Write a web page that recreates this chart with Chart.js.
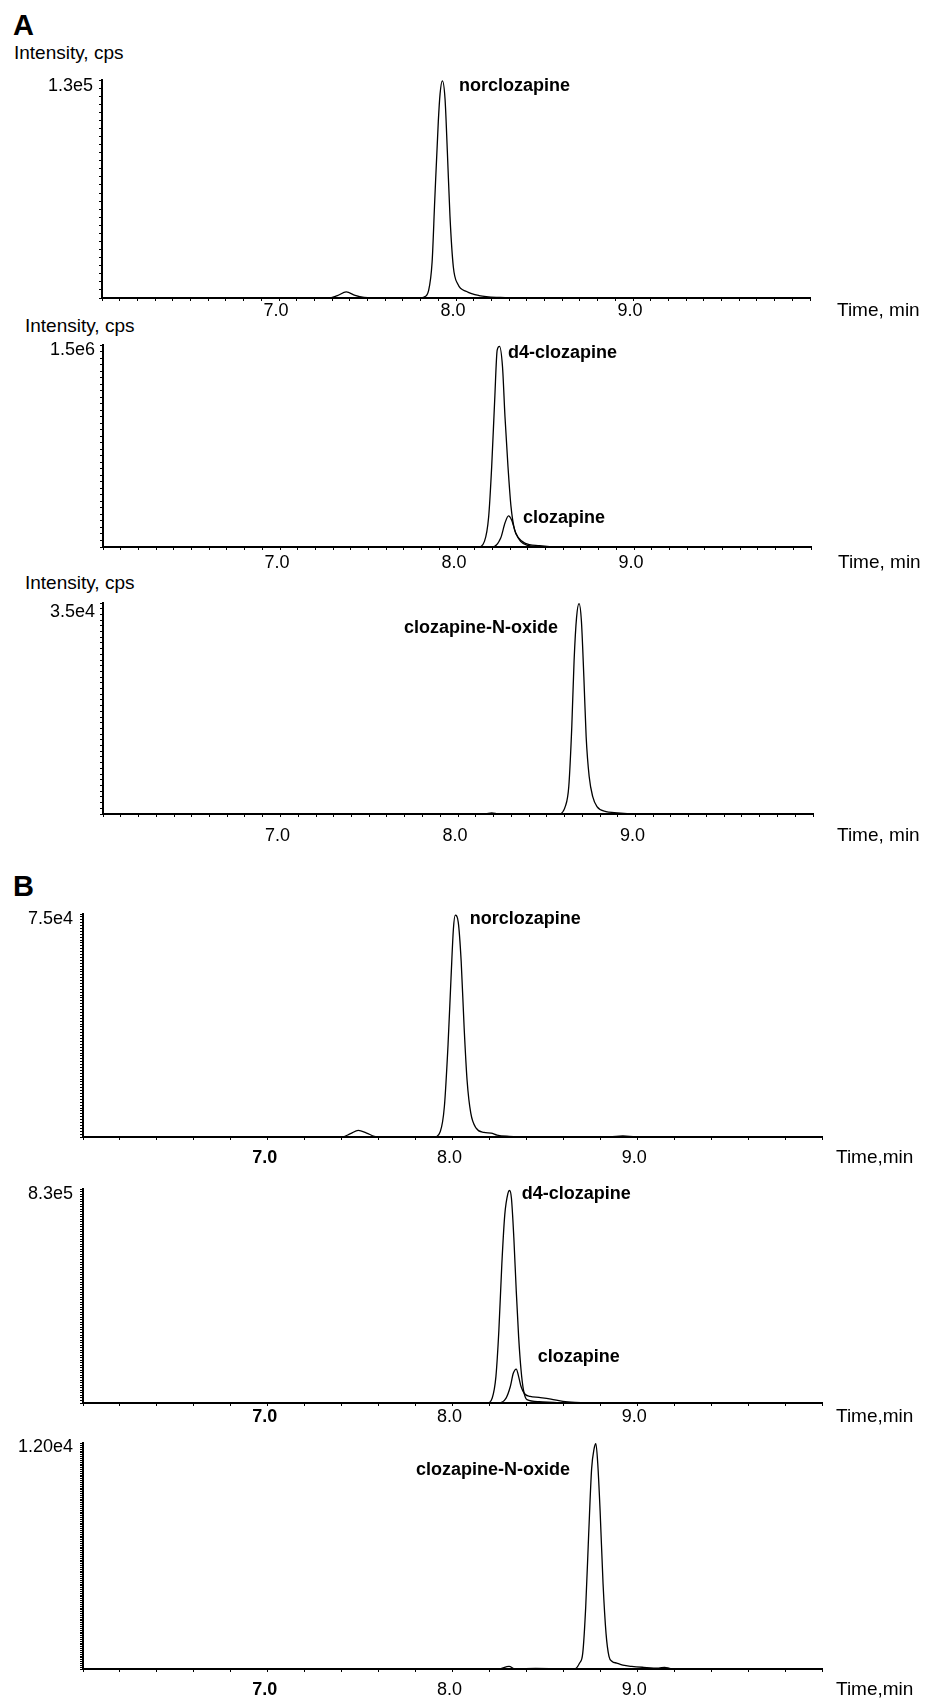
<!DOCTYPE html>
<html>
<head>
<meta charset="utf-8">
<title>Clozapine / norclozapine chromatograms</title>
<script src="https://cdn.jsdelivr.net/npm/chart.js@4.4.1/dist/chart.umd.min.js"></script>
<style>
  html, body { margin: 0; padding: 0; background: #fff; }
  #page {
    position: relative; width: 936px; height: 1703px; overflow: hidden;
    font-family: "Liberation Sans", Arial, Helvetica, sans-serif; color: #000;
  }
  #page canvas { position: absolute; left: 0; }
  .txt { position: absolute; line-height: 1; white-space: nowrap; transform: translateY(-50%); }
  .panel-tag { font-size: 29px; font-weight: bold; }
  .y-title { font-size: 19px; }
</style>
</head>
<body>
<div id="page">
  <div class="txt panel-tag" style="left:13px;top:25px">A</div>
  <div class="txt y-title" style="left:14px;top:52px">Intensity, cps</div>
  <div class="txt y-title" style="left:25px;top:325px">Intensity, cps</div>
  <div class="txt y-title" style="left:25px;top:582px">Intensity, cps</div>
  <div class="txt panel-tag" style="left:13px;top:886px">B</div>
</div>
<script>
// x axis: retention time (min)
const xTickValues = [7, 8, 9];
const xTickLabels = ['7.0', '8.0', '9.0'];

// --- A: traces (time in min, intensity in cps) ---
const aNorTime = [6.0, 7.28, 7.33, 7.38, 7.43, 7.48, 7.53, 7.79, 7.82, 7.845, 7.865, 7.88, 7.90, 7.91, 7.923, 7.938, 7.951, 7.966, 7.985, 8.01, 8.06, 8.13, 8.25, 8.40, 10.0];
const aNorCps = [0, 0, 1500, 3700, 1600, 300, 0, 0, 600, 4500, 22000, 60000, 108000, 125000, 133000, 122000, 90000, 50000, 19000, 8500, 4000, 1500, 300, 0, 0];

const aD4Time = [6.0, 8.12, 8.155, 8.179, 8.196, 8.213, 8.227, 8.240, 8.257, 8.271, 8.288, 8.305, 8.325, 8.349, 8.383, 8.467, 8.57, 10.0];
const aD4Cps = [0, 0, 43000, 233000, 614000, 1122000, 1500000, 1530000, 1376000, 995000, 614000, 310000, 132000, 68500, 30000, 10000, 0, 0];

const aCloTime = [6.0, 8.20, 8.247, 8.271, 8.291, 8.308, 8.332, 8.359, 8.399, 8.467, 8.55, 10.0];
const aCloCps = [0, 0, 68500, 183000, 238000, 208000, 107000, 43000, 12700, 2500, 0, 0];

const aCnoTime = [6.0, 8.15, 8.19, 8.23, 8.57, 8.604, 8.624, 8.641, 8.654, 8.668, 8.682, 8.695, 8.709, 8.722, 8.739, 8.759, 8.783, 8.834, 8.88, 8.935, 9.0, 10.0];
const aCnoCps = [0, 0, 200, 0, 0, 1270, 4730, 15100, 26600, 34100, 36500, 33600, 23800, 13400, 6500, 3000, 1270, 400, 250, 120, 0, 0];

// --- B: traces ---
const bNorTime = [6.0, 7.40, 7.448, 7.49, 7.535, 7.577, 7.60, 7.90, 7.934, 7.956, 7.976, 7.992, 8.005, 8.015, 8.031, 8.047, 8.063, 8.079, 8.099, 8.128, 8.17, 8.209, 8.241, 8.306, 8.403, 8.85, 8.922, 8.993, 10.0];
const bNorCps = [0, 0, 1140, 2270, 1360, 230, 0, 0, 1930, 10500, 32000, 54800, 71800, 76500, 74100, 60500, 37700, 19500, 8200, 3070, 1600, 1360, 680, 230, 0, 0, 340, 0, 0];

const bD4Time = [6.0, 8.19, 8.215, 8.235, 8.251, 8.267, 8.283, 8.300, 8.309, 8.319, 8.332, 8.345, 8.358, 8.371, 8.384, 8.403, 8.468, 8.565, 8.66, 10.0];
const bD4Cps = [0, 0, 19700, 105000, 289000, 552000, 749000, 834000, 845000, 814000, 657000, 447000, 263000, 131000, 52500, 13100, 5300, 1300, 0, 0];

const bCloTime = [6.0, 8.25, 8.290, 8.313, 8.329, 8.345, 8.358, 8.371, 8.390, 8.420, 8.468, 8.533, 8.598, 8.663, 8.79, 10.0];
const bCloCps = [0, 0, 19700, 65700, 118000, 135000, 105000, 65700, 36800, 26300, 22300, 15800, 6600, 2600, 0, 0];

const bCnoTime = [6.0, 8.25, 8.306, 8.34, 8.45, 8.66, 8.688, 8.705, 8.721, 8.737, 8.753, 8.766, 8.776, 8.786, 8.799, 8.815, 8.831, 8.847, 8.864, 8.889, 8.922, 8.970, 9.035, 9.116, 9.148, 9.181, 9.25, 10.0];
const bCnoCps = [0, 0, 140, 0, 35, 0, 321, 856, 3350, 7280, 10840, 11910, 12200, 11160, 8560, 4600, 1930, 680, 410, 320, 210, 140, 90, 50, 90, 20, 0, 0];

const FONT = '"Liberation Sans", Arial, Helvetica, sans-serif';

// one entry per chromatogram; box = pixel placement of the axes on the page
const panels = [
    { box: { left: 102, right: 810, top: 79, base: 298 }, labelOff: 13, yPad: 6, xStep: 0.1,
      xTitle: 'Time, min', titleGap: 27, boldSeven: false,
      yMax: 133500, yStep: 5000, yTickValue: 130000, yTickLabel: '1.3e5',
      traces: [[aNorTime, aNorCps]],
      peaks: [{ text: 'norclozapine', x: 8.017, y: 129800 }] },
    { box: { left: 103, right: 811, top: 345, base: 547 }, labelOff: 16, yPad: 5, xStep: 0.1,
      xTitle: 'Time, min', titleGap: 27, boldSeven: false,
      yMax: 1540000, yStep: 50000, yTickValue: 1500000, yTickLabel: '1.5e6',
      traces: [[aD4Time, aD4Cps], [aCloTime, aCloCps]],
      peaks: [{ text: 'd4-clozapine', x: 8.288, y: 1479000 }, { text: 'clozapine', x: 8.373, y: 221000 }] },
    { box: { left: 103, right: 813, top: 603, base: 814 }, labelOff: 22, yPad: 5, xStep: 0.1,
      xTitle: 'Time, min', titleGap: 24, boldSeven: false,
      yMax: 36600, yStep: 1000, yTickValue: 35000, yTickLabel: '3.5e4',
      traces: [[aCnoTime, aCnoCps]],
      peaks: [{ text: 'clozapine-N-oxide', x: 7.696, y: 32260 }] },
    { box: { left: 83, right: 822, top: 912, base: 1137 }, labelOff: 21, yPad: 7, xStep: 0.2,
      xTitle: 'Time,min', titleGap: 14, boldSeven: true,
      yMax: 76900, yStep: 1000, yTickValue: 75000, yTickLabel: '7.5e4',
      traces: [[bNorTime, bNorCps]],
      peaks: [{ text: 'norclozapine', x: 8.093, y: 75200 }] },
    { box: { left: 83, right: 822, top: 1187, base: 1403 }, labelOff: 14, yPad: 7, xStep: 0.2,
      xTitle: 'Time,min', titleGap: 14, boldSeven: true,
      yMax: 851000, yStep: 10000, yTickValue: 830000, yTickLabel: '8.3e5',
      traces: [[bD4Time, bD4Cps], [bCloTime, bCloCps]],
      peaks: [{ text: 'd4-clozapine', x: 8.375, y: 831000 }, { text: 'clozapine', x: 8.462, y: 181000 }] },
    { box: { left: 83, right: 822, top: 1441, base: 1669 }, labelOff: 21, yPad: 7, xStep: 0.2,
      xTitle: 'Time,min', titleGap: 14, boldSeven: true,
      yMax: 12240, yStep: 100, yTickValue: 12000, yTickLabel: '1.20e4',
      traces: [[bCnoTime, bCnoCps]],
      peaks: [{ text: 'clozapine-N-oxide', x: 7.803, y: 10790 }] }
];

const TICK_LEN = 3;
const PAD_TOP = 14;
const X_BAND = 44;

// peak names at data coordinates, the single y label, and the x title beside the axis
const panelText = {
    id: 'panelText',
    afterDraw(chart, args, opts) {
        const { ctx, chartArea, scales } = chart;
        ctx.save();
        ctx.fillStyle = '#000';
        ctx.textBaseline = 'middle';

        ctx.textAlign = 'right';
        ctx.font = '18px ' + FONT;
        ctx.fillText(opts.yLabel, chartArea.left - TICK_LEN - opts.yPad, scales.y.getPixelForValue(opts.yValue));

        ctx.textAlign = 'left';
        ctx.font = 'bold 18px ' + FONT;
        opts.peaks.forEach(p => {
            ctx.fillText(p.text, scales.x.getPixelForValue(p.x), scales.y.getPixelForValue(p.y));
        });

        ctx.font = '19px ' + FONT;
        ctx.fillText(opts.title, chartArea.right + opts.gap, chartArea.bottom + opts.offset);
        ctx.restore();
    }
};

function buildPanel(p) {
    const page = document.getElementById('page');
    const canvas = document.createElement('canvas');
    const h = PAD_TOP + (p.box.base - p.box.top) + X_BAND;
    canvas.width = 936;
    canvas.height = h;
    canvas.style.top = (p.box.top - PAD_TOP) + 'px';
    page.appendChild(canvas);

    const datasets = p.traces.map(([time, cps]) => ({
        data: time.map((t, i) => ({ x: t, y: cps[i] })),
        borderColor: '#000',
        borderWidth: 1.3,
        pointRadius: 0,
        fill: false,
        cubicInterpolationMode: 'monotone'
    }));

    new Chart(canvas.getContext('2d'), {
        type: 'line',
        data: { datasets },
        plugins: [panelText],
        options: {
            responsive: false,
            animation: false,
            events: [],
            layout: { padding: { top: PAD_TOP, right: 936 - p.box.right, bottom: 0, left: 0 } },
            plugins: {
                legend: { display: false },
                tooltip: { enabled: false },
                panelText: {
                    peaks: p.peaks, title: p.xTitle, gap: p.titleGap, offset: p.labelOff,
                    yLabel: p.yTickLabel, yValue: p.yTickValue, yPad: p.yPad
                }
            },
            scales: {
                x: {
                    type: 'linear',
                    min: 6,
                    max: 10,
                    afterFit: s => { s.height = X_BAND; },
                    border: { display: true, color: '#000', width: 2 },
                    grid: { drawOnChartArea: false, drawTicks: true, tickLength: TICK_LEN, tickColor: '#000', tickWidth: 1 },
                    ticks: {
                        stepSize: p.xStep,
                        autoSkip: false,
                        maxRotation: 0,
                        minRotation: 0,
                        labelOffset: -3,
                        color: '#000',
                        padding: p.labelOff - TICK_LEN - 9,
                        font: c => ({
                            family: FONT,
                            size: 18,
                            lineHeight: 1,
                            weight: (p.boldSeven && c.tick && Math.abs(c.tick.value - 7) < 1e-6) ? 'bold' : 'normal'
                        }),
                        callback: v => {
                            const k = xTickValues.findIndex(t => Math.abs(t - v) < 1e-6);
                            return k >= 0 ? xTickLabels[k] : '';
                        }
                    }
                },
                y: {
                    min: 0,
                    max: p.yMax,
                    afterFit: s => { s.width = p.box.left; },
                    border: { display: true, color: '#000', width: 2 },
                    grid: { drawOnChartArea: false, drawTicks: true, tickLength: TICK_LEN, tickColor: '#000', tickWidth: 1 },
                    ticks: {
                        stepSize: p.yStep,
                        includeBounds: false,
                        autoSkip: false,
                        padding: p.yPad,
                        font: { family: FONT, size: 18, lineHeight: 1 },
                        callback: () => ''
                    }
                }
            }
        }
    });
}

panels.forEach(buildPanel);
</script>
</body>
</html>
